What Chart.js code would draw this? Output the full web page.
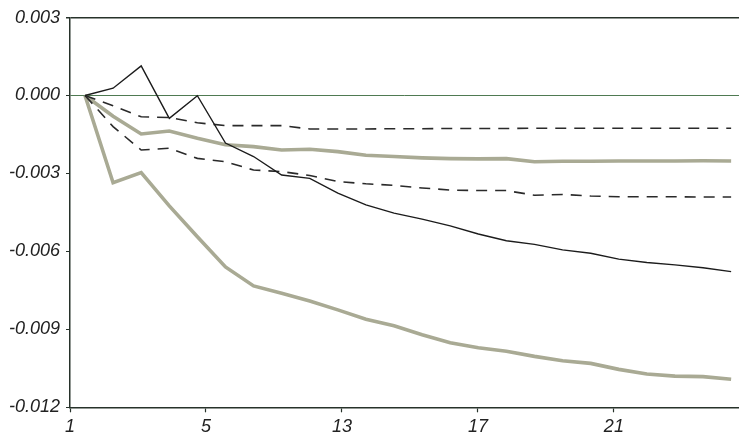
<!DOCTYPE html>
<html>
<head>
<meta charset="utf-8">
<script src="https://cdn.jsdelivr.net/npm/chart.js@4.4.1/dist/chart.umd.min.js"></script>
<style>
  html, body { margin: 0; padding: 0; background: #ffffff; }
  #wrap { width: 739px; height: 436px; position: relative; }
</style>
</head>
<body>
<div id="wrap"><canvas id="irf"></canvas></div>
<script>
// Horizon (periods after the shock)
const periods = [1, 2, 3, 4, 5, 6, 7, 8, 9, 10, 11, 12, 13, 14, 15, 16, 17, 18, 19, 20, 21, 22, 23, 24];

// Labels printed under the horizontal axis
const xTickLabels = ['1', '5', '13', '17', '21'];

// Point estimate of the impulse response
const response = [0, 0.00028, 0.00114, -0.00088, -0.00001, -0.00183, -0.00235, -0.00306,
  -0.00319, -0.00376, -0.00421, -0.00453, -0.00476, -0.00502, -0.00533, -0.00559,
  -0.00573, -0.00594, -0.00607, -0.0063, -0.00643, -0.00652, -0.00663, -0.00678];

// Inner (dashed) confidence band
const dashedUpper = [0, -0.0004, -0.00082, -0.00085, -0.00105, -0.00116, -0.00116, -0.00116,
  -0.00129, -0.00129, -0.00129, -0.00128, -0.00128, -0.00127, -0.00127, -0.00127,
  -0.00126, -0.00126, -0.00126, -0.00126, -0.00126, -0.00126, -0.00126, -0.00126];
const dashedLower = [0, -0.0012, -0.0021, -0.00203, -0.00242, -0.00255, -0.00287, -0.00293,
  -0.00308, -0.00331, -0.0034, -0.00346, -0.00356, -0.00364, -0.00366, -0.00366,
  -0.00384, -0.00381, -0.00387, -0.0039, -0.0039, -0.0039, -0.00391, -0.00391];

// Outer (grey) confidence band
const grayUpper = [0, -0.0008, -0.00148, -0.00137, -0.00165, -0.0019, -0.00197, -0.0021,
  -0.00207, -0.00216, -0.0023, -0.00235, -0.0024, -0.00243, -0.00244, -0.00243,
  -0.00255, -0.00253, -0.00253, -0.00252, -0.00252, -0.00252, -0.00251, -0.00252];
const grayLower = [0, -0.00336, -0.00297, -0.00425, -0.00544, -0.0066, -0.00733, -0.00761,
  -0.00791, -0.00825, -0.00861, -0.00886, -0.00921, -0.00952, -0.00971, -0.00984,
  -0.01004, -0.01021, -0.01031, -0.01054, -0.01072, -0.0108, -0.01082, -0.01092];

const toPoints = values => values.map((v, i) => ({ x: periods[i], y: v }));

// Horizontal axis range and the spacing of its printed ticks (in periods)
const X_MIN = 0.466;
const X_MAX = 24.28;
const X_TICK_STEP = 4.84;

const INK = '#1c1c1c';
const AXIS = '#27322a';
const GREY = '#a9aa94';
const tickFont = { family: "'Liberation Sans', Arial, sans-serif", size: 18, style: 'italic' };

new Chart(document.getElementById('irf'), {
  type: 'line',
  data: {
    datasets: [
      { data: toPoints(grayLower), borderColor: GREY, borderWidth: 3.6, order: 5 },
      { data: toPoints(grayUpper), borderColor: GREY, borderWidth: 3.6, order: 4 },
      { data: toPoints(dashedLower), borderColor: '#2a2a2a', borderWidth: 1.6, borderDash: [11, 8], order: 3 },
      { data: toPoints(dashedUpper), borderColor: '#2a2a2a', borderWidth: 1.6, borderDash: [11, 8], order: 2 },
      { data: toPoints(response), borderColor: INK, borderWidth: 1.4, order: 1 }
    ]
  },
  options: {
    responsive: true,
    maintainAspectRatio: false,
    animation: false,
    devicePixelRatio: 1,
    layout: { padding: { top: 17.5, right: 0, bottom: 0, left: 0 } },
    elements: {
      point: { radius: 0 },
      line: { tension: 0, fill: false, borderJoinStyle: 'miter', borderCapStyle: 'butt' }
    },
    plugins: { legend: { display: false }, tooltip: { enabled: false } },
    scales: {
      x: {
        type: 'linear',
        min: X_MIN,
        max: X_MAX,
        afterBuildTicks: scale => {
          scale.ticks = xTickLabels.map((_, k) => ({ value: X_MIN + k * X_TICK_STEP }));
        },
        afterFit: scale => { scale.height = 28.7; },
        border: { display: true, color: AXIS, width: 1.5 },
        grid: { drawOnChartArea: false, drawTicks: true, tickLength: 5, tickColor: AXIS, tickWidth: 1.2 },
        ticks: {
          color: '#222222',
          font: tickFont,
          padding: 4,
          maxRotation: 0,
          autoSkip: false,
          callback: (value, index) => xTickLabels[index]
        }
      },
      y: {
        min: -0.012,
        max: 0.003,
        afterFit: scale => { scale.width = 70; },
        border: { display: true, color: AXIS, width: 1.5 },
        grid: {
          drawOnChartArea: true,
          drawTicks: true,
          tickLength: 4,
          tickColor: AXIS,
          color: ctx => {
            const v = ctx.tick ? ctx.tick.value : null;
            if (v === null) return 'rgba(0,0,0,0)';
            if (Math.abs(v) < 1e-9) return '#4f7a52';
            if (Math.abs(v - 0.003) < 1e-9) return AXIS;
            return 'rgba(0,0,0,0)';
          },
          lineWidth: ctx => (ctx.tick && Math.abs(ctx.tick.value - 0.003) < 1e-9 ? 1.5 : 1)
        },
        ticks: {
          stepSize: 0.003,
          color: '#222222',
          font: tickFont,
          padding: 6,
          callback: value => value.toFixed(3)
        }
      }
    }
  }
});
</script>
</body>
</html>
